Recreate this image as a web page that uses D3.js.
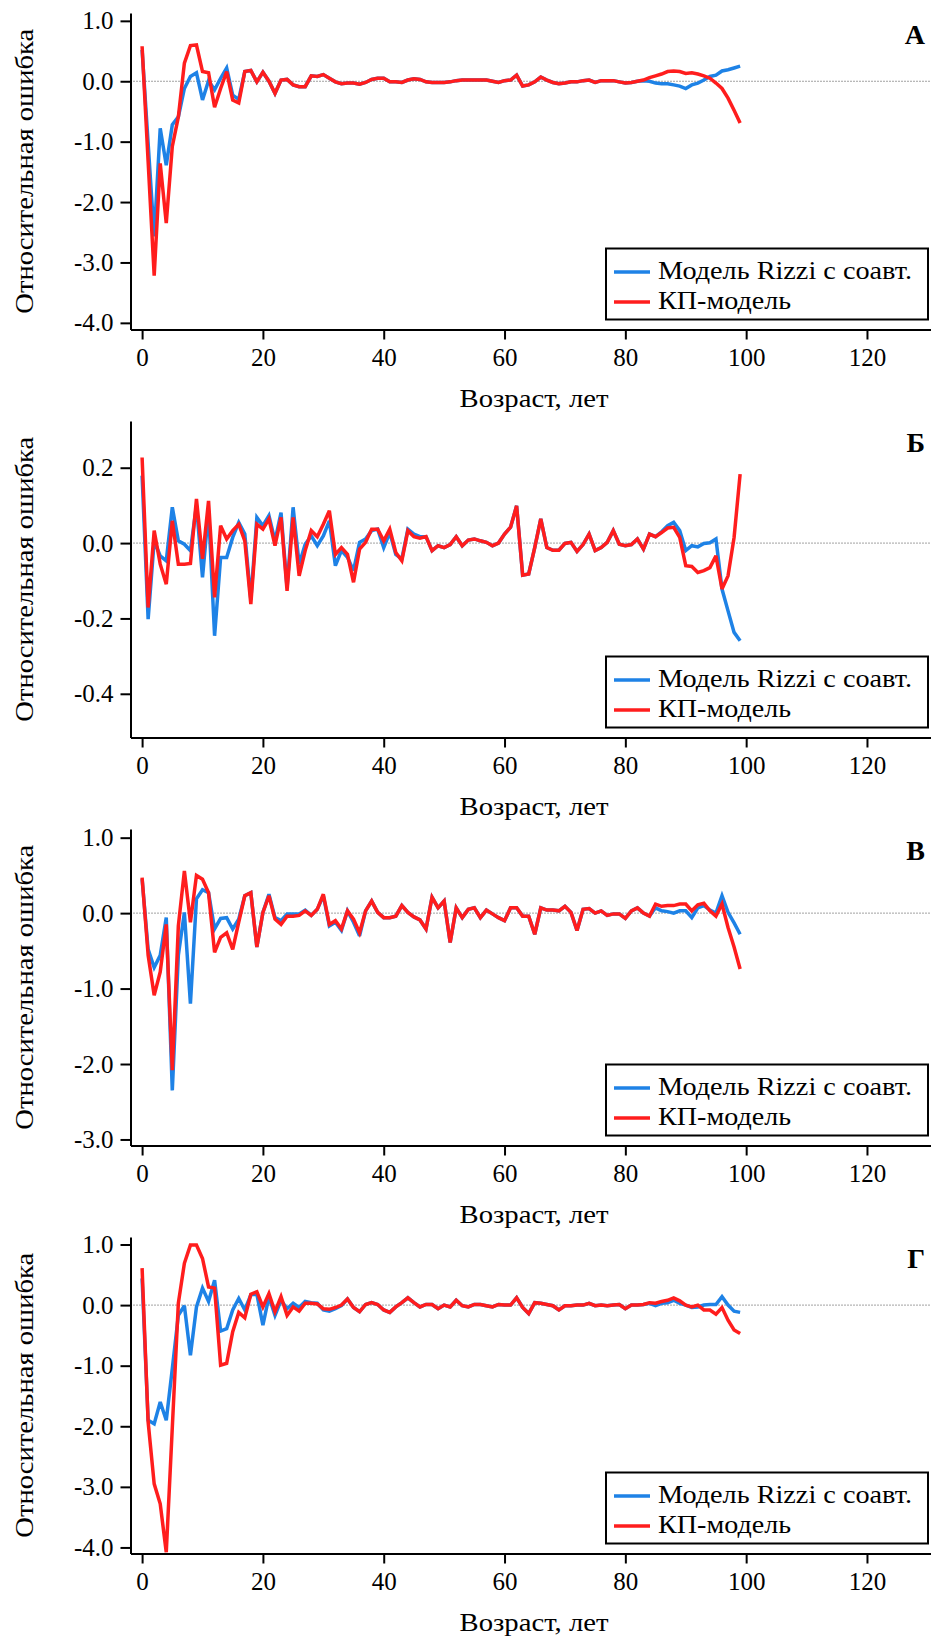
<!DOCTYPE html>
<html><head><meta charset="utf-8">
<script src="https://cdn.jsdelivr.net/npm/d3@7"></script>
<style>
html,body{margin:0;padding:0;background:#fff;}
svg{display:block;}
svg text{font-family:'Liberation Serif','DejaVu Serif',serif !important;fill:#000;}
</style></head>
<body>
<svg id="chart" width="931" height="1636"></svg>
<script>
// ---------- DATA ----------
const ages = d3.range(0, 100);
const xTicks = [0, 20, 40, 60, 80, 100, 120];
const panelLetters = ["А", "Б", "В", "Г"];
const seriesNames = ["Модель Rizzi с соавт.", "КП-модель"];
const xLabel = "Возраст, лет";
const yLabel = "Относительная ошибка";

const yTicksA = [1, 0, -1, -2, -3, -4];
const yTicksB = [0.2, 0, -0.2, -0.4];
const yTicksC = [1, 0, -1, -2, -3];
const yTicksD = [1, 0, -1, -2, -3, -4];

const yDomainA = [-4.11, 1.13];
const yDomainB = [-0.516, 0.324];
const yDomainC = [-3.08, 1.115];
const yDomainD = [-4.10, 1.124];

const rizziA = [0.52,-1.03,-2.57,-0.78,-1.39,-0.72,-0.59,-0.12,0.08,0.14,
 -0.31,0.01,-0.14,0.05,0.22,-0.23,-0.30,0.16,0.18,-0.01,
 0.15,0.00,-0.20,0.02,0.03,-0.06,-0.09,-0.09,0.09,0.08,
 0.11,0.05,-0.01,-0.04,-0.03,-0.03,-0.05,-0.02,0.03,0.05,
 0.05,-0.01,-0.01,-0.02,0.02,0.04,0.03,-0.01,-0.02,-0.02,
 -0.02,-0.01,0.01,0.02,0.02,0.02,0.02,0.02,0.00,-0.02,
 0.01,0.02,0.10,-0.08,-0.06,-0.01,0.07,0.02,-0.02,-0.04,
 -0.03,-0.01,-0.01,0.01,0.02,-0.02,0.01,0.01,0.01,-0.01,
 -0.03,-0.02,0.00,0.01,0.00,-0.03,-0.04,-0.04,-0.06,-0.08,
 -0.12,-0.06,-0.03,0.02,0.08,0.10,0.17,0.19,0.22,0.25];
const kpA = [0.58,-1.33,-3.22,-1.36,-2.35,-1.08,-0.59,0.30,0.59,0.60,
 0.16,0.14,-0.43,-0.12,0.16,-0.31,-0.36,0.16,0.18,-0.01,
 0.15,0.00,-0.20,0.02,0.03,-0.06,-0.09,-0.09,0.09,0.08,
 0.11,0.05,-0.01,-0.04,-0.03,-0.03,-0.05,-0.02,0.03,0.05,
 0.05,-0.01,-0.01,-0.02,0.02,0.04,0.03,-0.01,-0.02,-0.02,
 -0.02,-0.01,0.01,0.02,0.02,0.02,0.02,0.02,0.00,-0.02,
 0.01,0.02,0.10,-0.08,-0.06,-0.01,0.07,0.02,-0.02,-0.04,
 -0.03,-0.01,-0.01,0.01,0.02,-0.02,0.01,0.01,0.01,-0.01,
 -0.03,-0.02,0.00,0.02,0.06,0.09,0.12,0.16,0.17,0.16,
 0.13,0.14,0.12,0.09,0.05,-0.03,-0.12,-0.28,-0.48,-0.69];

const rizziB = [0.179,-0.202,0.006,-0.034,-0.047,0.095,0.006,-0.003,-0.020,0.100,
 -0.091,0.086,-0.246,-0.038,-0.038,0.015,0.055,0.024,-0.150,0.068,
 0.046,0.073,0.006,0.081,-0.118,0.095,-0.056,-0.003,0.019,-0.007,
 0.019,0.059,-0.060,-0.020,-0.038,-0.073,0.002,0.011,0.033,0.037,
 -0.012,0.028,-0.030,-0.042,0.037,0.024,0.017,0.017,-0.020,-0.007,
 -0.012,-0.004,0.017,-0.007,0.008,0.011,0.006,0.002,-0.007,0.000,
 0.024,0.042,0.099,-0.085,-0.082,-0.012,0.064,-0.012,-0.019,-0.019,
 -0.001,0.002,-0.022,-0.004,0.024,-0.020,-0.012,0.002,0.033,-0.003,
 -0.007,-0.004,0.011,-0.016,0.024,0.017,0.030,0.046,0.055,0.033,
 -0.020,-0.007,-0.010,-0.001,0.001,0.011,-0.122,-0.180,-0.237,-0.259];
const kpB = [0.227,-0.171,0.033,-0.056,-0.109,0.059,-0.056,-0.056,-0.054,0.117,
 -0.042,0.112,-0.144,0.046,0.011,0.033,0.050,0.006,-0.162,0.050,
 0.037,0.064,-0.007,0.068,-0.127,0.068,-0.087,-0.020,0.033,0.017,
 0.050,0.086,-0.030,-0.012,-0.030,-0.104,-0.016,0.002,0.037,0.037,
 0.006,0.037,-0.025,-0.047,0.033,0.017,0.013,0.017,-0.020,-0.007,
 -0.012,-0.004,0.017,-0.007,0.008,0.011,0.006,0.002,-0.007,0.000,
 0.024,0.042,0.099,-0.085,-0.082,-0.012,0.064,-0.012,-0.019,-0.019,
 -0.001,0.002,-0.022,-0.004,0.024,-0.020,-0.012,0.002,0.033,-0.003,
 -0.007,-0.004,0.011,-0.016,0.024,0.017,0.028,0.040,0.042,0.015,
 -0.060,-0.062,-0.078,-0.073,-0.065,-0.034,-0.122,-0.087,0.015,0.183];

const rizziC = [0.45,-0.48,-0.72,-0.56,-0.06,-2.35,-0.56,0.01,-1.20,0.19,
 0.31,0.27,-0.21,-0.07,-0.06,-0.21,-0.08,0.23,0.27,-0.45,
 0.01,0.25,-0.06,-0.10,-0.01,-0.01,-0.01,0.04,-0.03,0.05,
 0.23,-0.17,-0.12,-0.23,0.03,-0.12,-0.30,0.03,0.16,0.01,
 -0.06,-0.06,-0.04,0.10,0.01,-0.05,-0.09,-0.21,0.21,0.07,
 0.16,-0.39,0.07,-0.06,0.05,0.07,-0.06,0.04,-0.01,-0.06,
 -0.10,0.07,0.07,-0.04,-0.04,-0.28,0.07,0.04,0.04,0.03,
 0.09,0.01,-0.23,0.05,0.06,0.00,0.03,-0.03,-0.01,-0.01,
 -0.07,0.03,0.07,0.00,-0.04,0.07,0.03,0.02,0.00,0.03,
 0.03,-0.06,0.07,0.10,0.04,0.00,0.23,0.01,-0.13,-0.28];
const kpC = [0.47,-0.56,-1.09,-0.78,-0.15,-2.08,-0.17,0.56,-0.12,0.50,
 0.45,0.27,-0.52,-0.32,-0.26,-0.48,-0.12,0.23,0.27,-0.45,
 0.01,0.23,-0.08,-0.15,-0.04,-0.04,-0.03,0.03,-0.03,0.05,
 0.25,-0.15,-0.10,-0.21,0.03,-0.08,-0.26,0.03,0.16,0.01,
 -0.06,-0.06,-0.04,0.10,0.01,-0.05,-0.09,-0.21,0.21,0.07,
 0.16,-0.39,0.07,-0.06,0.05,0.07,-0.06,0.04,-0.01,-0.06,
 -0.10,0.07,0.07,-0.04,-0.04,-0.28,0.07,0.04,0.04,0.03,
 0.09,0.01,-0.23,0.05,0.06,0.00,0.03,-0.03,-0.01,-0.01,
 -0.07,0.03,0.07,0.00,-0.04,0.12,0.09,0.10,0.10,0.12,
 0.12,0.03,0.11,0.13,0.03,-0.04,0.12,-0.19,-0.45,-0.74];

const rizziD = [0.44,-1.90,-1.96,-1.60,-1.90,-1.05,-0.17,-0.01,-0.83,-0.03,
 0.28,0.06,0.41,-0.43,-0.39,-0.08,0.11,-0.08,0.17,0.18,
 -0.33,0.14,-0.17,0.08,-0.06,0.03,-0.04,0.06,0.04,0.03,
 -0.08,-0.10,-0.06,-0.01,0.10,-0.04,-0.11,0.01,0.04,0.01,
 -0.08,-0.12,-0.03,0.04,0.12,0.04,-0.03,0.01,0.01,-0.06,
 0.00,-0.03,0.08,-0.01,-0.03,0.01,0.01,-0.01,-0.03,0.01,
 0.00,0.00,0.12,-0.04,-0.14,0.04,0.03,0.01,-0.01,-0.08,
 -0.01,-0.01,0.00,0.00,0.03,-0.01,0.00,-0.01,0.00,0.01,
 -0.06,0.00,0.00,0.01,0.03,-0.01,0.03,0.04,0.08,0.03,
 0.00,-0.04,-0.03,0.00,0.01,0.01,0.14,0.00,-0.10,-0.12];
const kpD = [0.61,-1.93,-2.95,-3.28,-4.08,-2.02,0.03,0.69,0.99,0.99,
 0.77,0.30,0.28,-0.99,-0.96,-0.44,-0.12,-0.21,0.18,0.22,
 -0.03,0.19,-0.11,0.14,-0.17,-0.03,-0.10,0.03,0.03,0.02,
 -0.06,-0.07,-0.04,0.00,0.10,-0.04,-0.11,0.01,0.04,0.01,
 -0.08,-0.12,-0.03,0.04,0.12,0.04,-0.03,0.01,0.01,-0.06,
 0.00,-0.03,0.08,-0.01,-0.03,0.01,0.01,-0.01,-0.03,0.01,
 0.00,0.00,0.12,-0.04,-0.14,0.04,0.03,0.01,-0.01,-0.08,
 -0.01,-0.01,0.00,0.00,0.03,-0.01,0.00,-0.01,0.00,0.01,
 -0.06,0.00,0.00,0.01,0.04,0.03,0.06,0.08,0.12,0.07,
 0.00,-0.03,0.00,-0.08,-0.08,-0.15,-0.04,-0.25,-0.41,-0.47];

// ---------- LAYOUT ----------
const panels = [
  {letter: panelLetters[0], yTicks: yTicksA, yDomain: yDomainA, rizzi: rizziA, kp: kpA},
  {letter: panelLetters[1], yTicks: yTicksB, yDomain: yDomainB, rizzi: rizziB, kp: kpB},
  {letter: panelLetters[2], yTicks: yTicksC, yDomain: yDomainC, rizzi: rizziC, kp: kpC},
  {letter: panelLetters[3], yTicks: yTicksD, yDomain: yDomainD, rizzi: rizziD, kp: kpD}
];
const colors = ["#1e82e6", "#ff1d1d"];
const spineX = 130.5, rightX = 931;
const panelStep = 408, panelTop0 = 13, plotH = 316.5;
const fs = 25;
const FONT = "'Liberation Serif','DejaVu Serif',serif";

const svg = d3.select("#chart");
const x = d3.scaleLinear().domain([-1.92, 130.6]).range([spineX, rightX]);

panels.forEach((p, i) => {
  const top = panelTop0 + panelStep * i;
  const bottom = top + plotH;
  const y = d3.scaleLinear().domain(p.yDomain).range([bottom, top]);
  const g = svg.append("g").attr("font-family", FONT);

  // zero reference line
  g.append("line")
    .attr("x1", spineX).attr("x2", rightX)
    .attr("y1", y(0)).attr("y2", y(0))
    .attr("stroke", "#444").attr("stroke-width", 1)
    .attr("stroke-dasharray", "1,2");

  // series
  const line = d3.line().x((d, j) => x(ages[j])).y(d => y(d));
  [p.rizzi, p.kp].forEach((vals, k) => {
    g.append("path").datum(vals)
      .attr("d", line)
      .attr("fill", "none")
      .attr("stroke", colors[k])
      .attr("stroke-width", 3.5)
      .attr("stroke-linejoin", "miter")
      .attr("stroke-miterlimit", 3);
  });

  // y axis
  const ya = g.append("g").attr("transform", `translate(${spineX},0)`)
    .call(d3.axisLeft(y).tickValues(p.yTicks).tickSize(10).tickSizeOuter(0).tickPadding(7)
      .tickFormat(v => v.toFixed(1)));
  // x axis
  const xa = g.append("g").attr("transform", `translate(0,${bottom})`)
    .call(d3.axisBottom(x).tickValues(xTicks).tickSize(10).tickSizeOuter(0).tickPadding(9)
      .tickFormat(v => String(v)));
  [ya, xa].forEach(a => {
    a.attr("font-family", FONT).attr("font-size", fs);
    a.select(".domain").attr("stroke", "#000").attr("stroke-width", 2);
    a.selectAll(".tick line").attr("stroke", "#000").attr("stroke-width", 2);
    a.selectAll(".tick text").attr("font-family", FONT).attr("font-size", fs).attr("fill", "#000");
  });

  // axis labels
  g.append("text")
    .attr("transform", `translate(33,${(top + bottom) / 2}) rotate(-90)`)
    .attr("text-anchor", "middle")
    .attr("font-size", fs)
    .attr("textLength", 285).attr("lengthAdjust", "spacingAndGlyphs")
    .text(yLabel);
  g.append("text")
    .attr("x", 534).attr("y", bottom + 77)
    .attr("text-anchor", "middle")
    .attr("font-size", fs)
    .attr("textLength", 149).attr("lengthAdjust", "spacingAndGlyphs")
    .text(xLabel);

  // panel letter
  g.append("text")
    .attr("x", 925).attr("y", top + 31)
    .attr("text-anchor", "end")
    .attr("font-size", 28).attr("font-weight", "bold")
    .text(p.letter);

  // legend
  const lx = 606, lw = 322, lh = 71;
  const ly = bottom - 81;
  const lg = g.append("g");
  lg.append("rect").attr("x", lx).attr("y", ly).attr("width", lw).attr("height", lh)
    .attr("fill", "#fff").attr("stroke", "#000").attr("stroke-width", 2);
  seriesNames.forEach((name, k) => {
    const yy = ly + 23.5 + 30 * k;
    lg.append("line").attr("x1", 614).attr("x2", 650).attr("y1", yy).attr("y2", yy)
      .attr("stroke", colors[k]).attr("stroke-width", 3.5);
    lg.append("text").attr("x", 658).attr("y", yy + 7)
      .attr("font-size", 26)
      .attr("textLength", k === 0 ? 254 : 133).attr("lengthAdjust", "spacingAndGlyphs")
      .text(name);
  });
});
</script>
</body></html>
